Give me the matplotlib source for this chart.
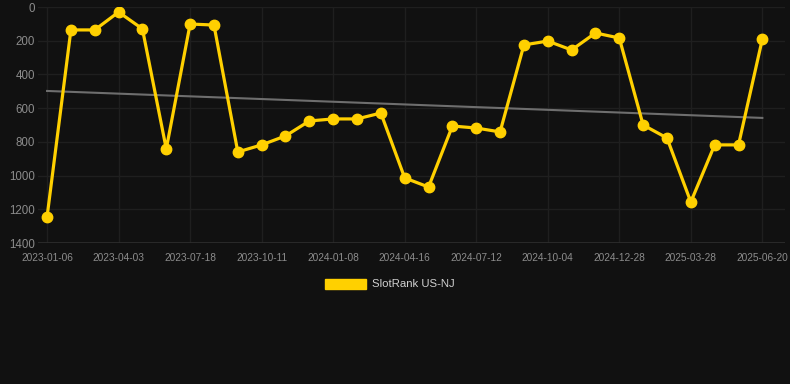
import matplotlib
matplotlib.use("Agg")
import matplotlib.pyplot as plt
import numpy as np
from matplotlib.patches import Patch

tick_labels = ["2023-01-06", "2023-04-03", "2023-07-18", "2023-10-11", "2024-01-08",
               "2024-04-16", "2024-07-12", "2024-10-04", "2024-12-28", "2025-03-28", "2025-06-20"]
ranks = [1245, 136, 136, 30, 130, 842, 101, 107, 860, 818, 765, 676, 664, 664, 629,
         1014, 1068, 706, 718, 741, 225, 202, 255, 154, 184, 700, 777, 1157, 818, 818, 190]
trend_ends = [498, 658]
series_name = "SlotRank US-NJ"

W, H = 790, 384
fig = plt.figure(figsize=(W / 100, H / 100), dpi=100)
fig.patch.set_facecolor("#111111")
ax = fig.add_axes([38 / W, 1 - 243 / H, (785 - 38) / W, (243 - 7) / H])
ax.set_facecolor("#111111")

x = np.arange(len(ranks))
gold = "#FFD000"

ax.plot([x[0], x[-1]], trend_ends, color="#6e6e6e", lw=1.5, zorder=2)
ax.plot(x, ranks, color=gold, lw=2.3, marker="o", markersize=7.5, zorder=3)

ax.set_ylim(1400, 0)
ax.set_yticks(np.arange(0, 1401, 200))
ax.set_xlim(-0.38, 30.95)
ax.set_xticks(x[::3])
ax.set_xticklabels(tick_labels)

ax.grid(True, color="#1f1f1f", lw=1.0)
ax.axhline(1400, color="#2e2e2e", lw=1.2, zorder=1)
ax.set_axisbelow(True)
for s in ax.spines.values():
    s.set_visible(False)
ax.tick_params(axis="both", length=0)
ax.tick_params(axis="x", labelsize=7.3, labelcolor="#8c8c8c", pad=7)
ax.tick_params(axis="y", labelsize=8.3, labelcolor="#8c8c8c", pad=2)
for lab in ax.get_xticklabels() + ax.get_yticklabels():
    lab.set_family(["Liberation Sans", "DejaVu Sans"])

leg = fig.legend(handles=[Patch(facecolor=gold, edgecolor=gold, label=series_name)],
                 loc="center", bbox_to_anchor=(390 / W, 1 - 284 / H), frameon=False,
                 handlelength=3.6, handleheight=1.0, handletextpad=0.5,
                 prop={"family": ["Liberation Sans", "DejaVu Sans"], "size": 8.2})
for t in leg.get_texts():
    t.set_color("#d0d0d0")

fig.savefig("out.png", dpi=100, facecolor=fig.get_facecolor())
